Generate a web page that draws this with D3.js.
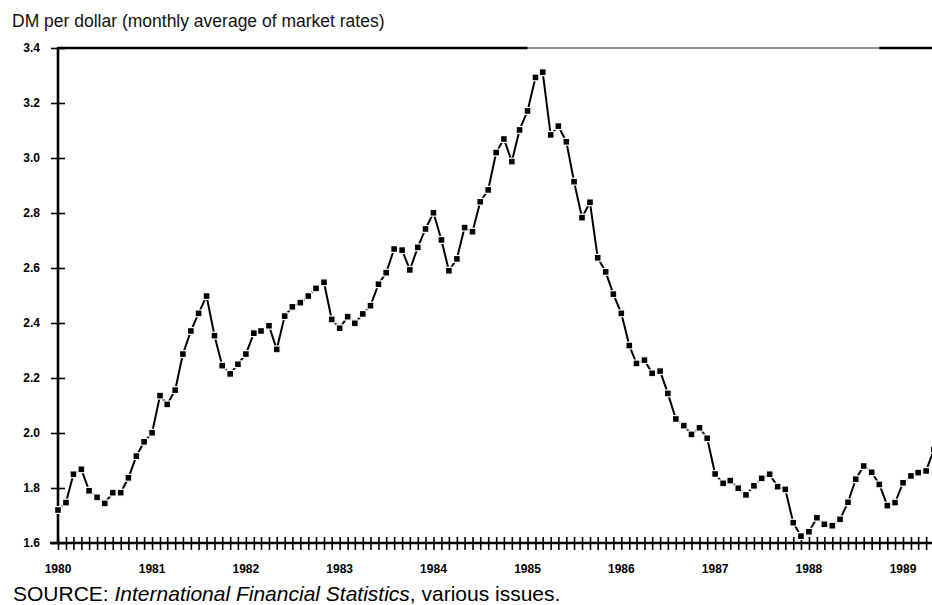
<!DOCTYPE html>
<html>
<head>
<meta charset="utf-8">
<script src="https://cdn.jsdelivr.net/npm/d3@7"></script>
<style>
  body { margin: 0; background: #fff; }
  svg { display: block; font-family: "Liberation Sans", Arial, sans-serif; }
</style>
</head>
<body>
<div id="graphHolder"></div>
<script>
// DM per dollar, monthly averages, Jan 1980 .. May 1989
var startYear = 1980;
var dm1980 = [1.72, 1.747, 1.85, 1.868, 1.79, 1.766, 1.744, 1.783, 1.783, 1.837, 1.916, 1.968];
var dm1981 = [2.001, 2.136, 2.104, 2.156, 2.287, 2.371, 2.435, 2.498, 2.354, 2.245, 2.215, 2.25];
var dm1982 = [2.287, 2.363, 2.371, 2.39, 2.304, 2.425, 2.459, 2.474, 2.498, 2.526, 2.548, 2.413];
var dm1983 = [2.381, 2.423, 2.399, 2.433, 2.463, 2.541, 2.583, 2.669, 2.665, 2.593, 2.675, 2.742];
var dm1984 = [2.801, 2.702, 2.59, 2.633, 2.747, 2.732, 2.841, 2.884, 3.02, 3.069, 2.987, 3.102];
var dm1985 = [3.171, 3.293, 3.312, 3.084, 3.116, 3.059, 2.914, 2.783, 2.839, 2.637, 2.586, 2.505];
var dm1986 = [2.435, 2.318, 2.253, 2.265, 2.217, 2.225, 2.144, 2.051, 2.027, 1.995, 2.019, 1.981];
var dm1987 = [1.851, 1.817, 1.827, 1.799, 1.775, 1.808, 1.835, 1.85, 1.805, 1.795, 1.674, 1.625];
var dm1988 = [1.641, 1.692, 1.668, 1.663, 1.686, 1.748, 1.832, 1.88, 1.857, 1.813, 1.736, 1.747];
var dm1989 = [1.819, 1.844, 1.856, 1.862, 1.94];

var yTicks = [1.6, 1.8, 2.0, 2.2, 2.4, 2.6, 2.8, 3.0, 3.2, 3.4];
var yearLabels = ["1980", "1981", "1982", "1983", "1984", "1985", "1986", "1987", "1988", "1989"];

var titleText = "DM per dollar (monthly average of market rates)";

var graphWidth = 932;
var graphHeight = 605;

var allValues = [].concat(dm1980, dm1981, dm1982, dm1983, dm1984,
        dm1985, dm1986, dm1987, dm1988, dm1989);

var series = allValues.map(function (v, i) {
    return {date: new Date(startYear, i, 1), value: v};
});

var svg = d3.select("#graphHolder")
        .append("svg").attr("id", "graph")
        .attr("width", graphWidth)
        .attr("height", graphHeight);

var x = d3.scaleTime()
        .domain([new Date(1980, 0, 1), new Date(1989, 0, 1)])
        .range([58, 903]);

var y = d3.scaleLinear()
        .domain([1.6, 3.4])
        .range([543, 48]);

var x0 = x.range()[0];
var xEnd = graphWidth;

// title
svg.append("text")
        .attr("x", 12)
        .attr("y", 27)
        .attr("font-size", 17.5)
        .attr("fill", "#111")
        .text(titleText);

// top frame line (heavier at both ends like the print)
svg.append("line")
        .attr("x1", x0).attr("x2", xEnd)
        .attr("y1", y(3.4)).attr("y2", y(3.4))
        .attr("stroke", "#222").attr("stroke-width", 1.2);
svg.append("line")
        .attr("x1", x0).attr("x2", x(new Date(1985, 0, 1)))
        .attr("y1", y(3.4)).attr("y2", y(3.4))
        .attr("stroke", "#000").attr("stroke-width", 2.4);
svg.append("line")
        .attr("x1", x(new Date(1988, 9, 1))).attr("x2", xEnd)
        .attr("y1", y(3.4)).attr("y2", y(3.4))
        .attr("stroke", "#000").attr("stroke-width", 2.4);

// y axis
var yAxis = svg.append("g")
        .attr("transform", "translate(" + x0 + ",0)")
        .call(d3.axisLeft(y).tickValues(yTicks).tickSize(7).tickPadding(11)
                .tickFormat(d3.format(".1f")));
yAxis.select(".domain").remove();
yAxis.selectAll(".tick line")
        .attr("x1", -7).attr("x2", 7)
        .attr("stroke", "#000").attr("stroke-width", 1.6);
yAxis.selectAll(".tick text")
        .attr("font-size", 12)
        .attr("font-weight", "bold")
        .attr("fill", "#000")
        .attr("font-family", "\"Liberation Sans\", Arial, sans-serif");

svg.append("line")
        .attr("x1", x0).attr("x2", x0)
        .attr("y1", y(3.4) - 1).attr("y2", y(1.6))
        .attr("stroke", "#000").attr("stroke-width", 2.6);

// x axis: a tick for every month
var months = d3.timeMonth.range(new Date(1980, 0, 1), new Date(1989, 5, 1));
var xAxis = svg.append("g")
        .attr("transform", "translate(0," + y(1.6) + ")")
        .call(d3.axisBottom(x).tickValues(months).tickSize(7).tickFormat(""));
xAxis.select(".domain").remove();
xAxis.selectAll(".tick line")
        .attr("y1", -6).attr("y2", 7)
        .attr("stroke", "#000").attr("stroke-width", 1.6);

svg.append("line")
        .attr("x1", x0 - 8).attr("x2", xEnd)
        .attr("y1", y(1.6)).attr("y2", y(1.6))
        .attr("stroke", "#000").attr("stroke-width", 2.4);

svg.append("g")
        .selectAll("text")
        .data(yearLabels)
        .enter().append("text")
        .attr("x", function (d) { return x(new Date(+d, 0, 1)); })
        .attr("y", 573)
        .attr("text-anchor", "middle")
        .attr("font-size", 12)
        .attr("font-weight", "bold")
        .attr("fill", "#000")
        .text(function (d) { return d; });

// series line
var line = d3.line()
        .x(function (d) { return x(d.date); })
        .y(function (d) { return y(d.value); });

svg.append("path")
        .datum(series)
        .attr("fill", "none")
        .attr("stroke", "#000")
        .attr("stroke-width", 2)
        .attr("stroke-linejoin", "round")
        .attr("d", line);

svg.append("g")
        .selectAll("rect")
        .data(series)
        .enter().append("rect")
        .attr("x", function (d) { return x(d.date) - 3.4; })
        .attr("y", function (d) { return y(d.value) - 3.4; })
        .attr("width", 6.8)
        .attr("height", 6.8)
        .attr("fill", "#000")
        .attr("stroke", "#fff")
        .attr("stroke-width", 1.2);

// source note
var src = svg.append("text")
        .attr("x", 13)
        .attr("y", 601)
        .attr("font-size", 21)
        .attr("fill", "#000");
src.append("tspan").text("SOURCE: ");
src.append("tspan").attr("font-style", "italic").text("International Financial Statistics");
src.append("tspan").text(", various issues.");
</script>
</body>
</html>
